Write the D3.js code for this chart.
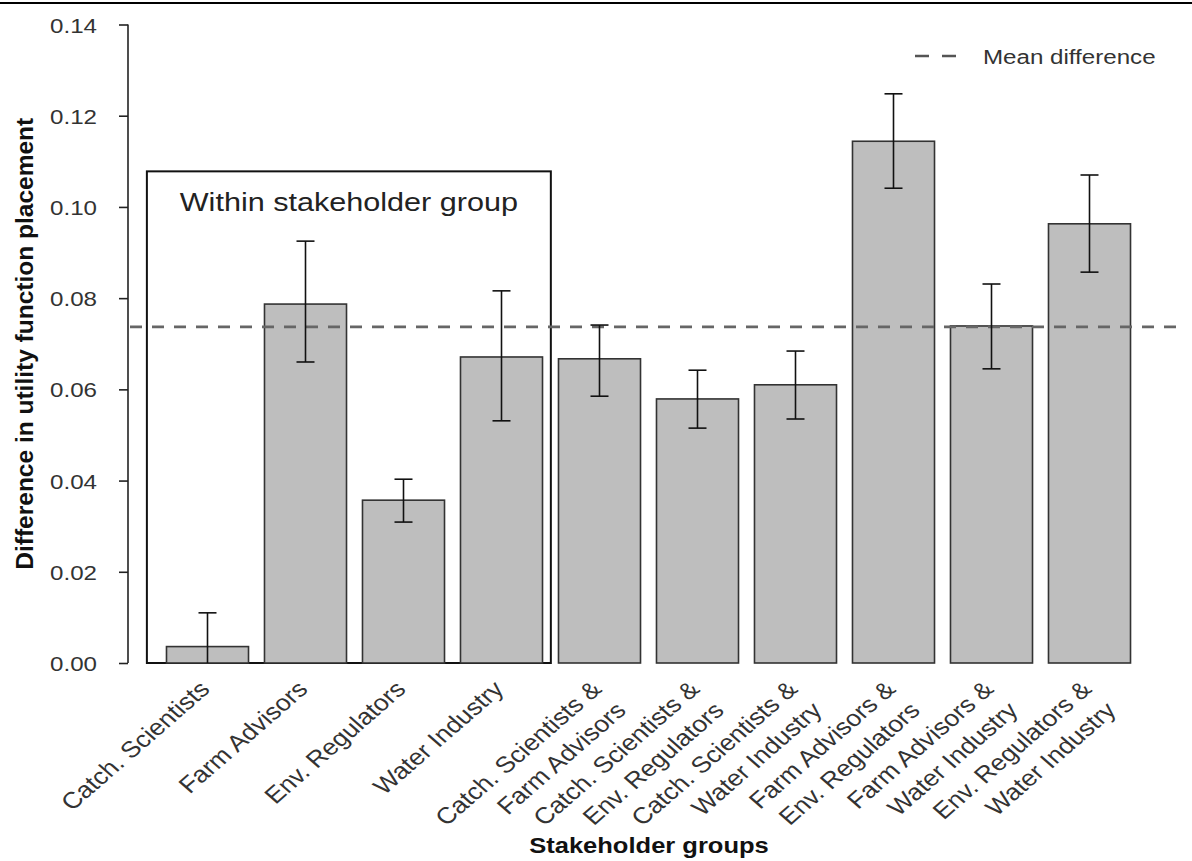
<!DOCTYPE html>
<html>
<head>
<meta charset="utf-8">
<script src="https://cdn.jsdelivr.net/npm/d3@7"></script>
<style>
  html, body { margin: 0; padding: 0; background: #fff; }
  svg { display: block; }
  text { font-family: "Liberation Sans", Arial, sans-serif; }
</style>
</head>
<body>
<svg id="chart" width="1192" height="861"></svg>
<script>
// Stakeholder groups (two-line labels split on "\n")
const categories = [
  "Catch. Scientists",
  "Farm Advisors",
  "Env. Regulators",
  "Water Industry",
  "Catch. Scientists &\nFarm Advisors",
  "Catch. Scientists &\nEnv. Regulators",
  "Catch. Scientists &\nWater Industry",
  "Farm Advisors &\nEnv. Regulators",
  "Farm Advisors &\nWater Industry",
  "Env. Regulators &\nWater Industry"
];
// Mean difference in utility function placement per group
const values   = [0.0036, 0.0787, 0.0357, 0.0671, 0.0667, 0.0579, 0.0610, 0.1144, 0.0739, 0.0963];
// Error bar bounds
const errLow   = [-0.0038, 0.0660, 0.0309, 0.0531, 0.0585, 0.0515, 0.0535, 0.1041, 0.0645, 0.0857];
const errHigh  = [0.0110, 0.0925, 0.0403, 0.0816, 0.0741, 0.0642, 0.0684, 0.1248, 0.0831, 0.1070];
const meanDifference = 0.0737;
const yTicks = [0, 0.02, 0.04, 0.06, 0.08, 0.10, 0.12, 0.14];
const withinGroups = categories.slice(0, 4);
const withinBoxTop = 0.1078;

const svg = d3.select("#chart");
const W = 1192, H = 861;
const SX = 1.15;           // horizontal glyph stretch
const labelColor = "#333";

svg.append("rect").attr("width", W).attr("height", H).attr("fill", "#fff");
// thin rule along the top edge
svg.append("line").attr("x1", 0).attr("x2", W).attr("y1", 3).attr("y2", 3)
  .attr("stroke", "#000").attr("stroke-width", 2);

const x = d3.scaleBand().domain(categories).range([158.5, 1138.5])
  .paddingInner(0.163).paddingOuter(0.0815);
const y = d3.scaleLinear().domain([0, 0.14]).range([663, 24.5]).clamp(true);

const data = categories.map((c, i) => ({ c, v: values[i], lo: errLow[i], hi: errHigh[i] }));

// Within-group frame
const step = x.step();
const boxL = x(withinGroups[0]) - step * 0.2;
const boxR = x(withinGroups[3]) + x.bandwidth() + step * 0.085;
svg.append("rect")
  .attr("x", boxL).attr("y", y(withinBoxTop))
  .attr("width", boxR - boxL).attr("height", y(0) - y(withinBoxTop))
  .attr("fill", "none").attr("stroke", "#111").attr("stroke-width", 2);
svg.append("text")
  .attr("transform", `translate(${(boxL + boxR) / 2},${y(withinBoxTop) + 40}) scale(${SX},1)`)
  .attr("text-anchor", "middle")
  .attr("font-size", 26.6).attr("fill", "#222")
  .text("Within stakeholder group");

// Bars
svg.append("g").selectAll("rect").data(data).join("rect")
  .attr("x", d => x(d.c)).attr("width", x.bandwidth())
  .attr("y", d => y(d.v)).attr("height", d => y(0) - y(d.v))
  .attr("fill", "#bebebe").attr("stroke", "#333").attr("stroke-width", 1.6);

// Mean difference line
svg.append("line")
  .attr("x1", 130).attr("x2", 1182)
  .attr("y1", y(meanDifference)).attr("y2", y(meanDifference))
  .attr("stroke", "#666").attr("stroke-width", 2.6)
  .attr("stroke-dasharray", "12,10");

// Error bars
const eb = svg.append("g").attr("stroke", "#111").attr("stroke-width", 1.6);
data.forEach(d => {
  const cx = x(d.c) + x.bandwidth() / 2;
  eb.append("line").attr("x1", cx).attr("x2", cx).attr("y1", y(d.lo)).attr("y2", y(d.hi));
  eb.append("line").attr("x1", cx - 9).attr("x2", cx + 9).attr("y1", y(d.hi)).attr("y2", y(d.hi));
  if (d.lo > 0) eb.append("line").attr("x1", cx - 9).attr("x2", cx + 9).attr("y1", y(d.lo)).attr("y2", y(d.lo));
});

// Y axis
const yAxis = svg.append("g").attr("transform", "translate(128,0)")
  .call(d3.axisLeft(y).tickValues(yTicks).tickFormat(d3.format(".2f")).tickSize(9).tickPadding(0));
yAxis.select(".domain").attr("stroke", "#222").attr("stroke-width", 1.6).attr("d", `M0,${y(0)}V${y(0.14)}`);
yAxis.selectAll(".tick line").attr("stroke", "#222").attr("stroke-width", 1.6);
yAxis.selectAll(".tick text")
  .attr("x", null).attr("dy", null)
  .attr("font-size", 21).attr("fill", labelColor)
  .attr("text-anchor", "end")
  .attr("transform", `translate(-31,7.5) scale(${SX},1)`);

// X tick labels, rotated 45 degrees; first line sits at the anchor, second line below
const lh = 1.3;
const xl = svg.append("g");
categories.forEach(c => {
  const lines = c.split("\n");
  const cx = x(c) + x.bandwidth() / 2;
  const t = xl.append("text")
    .attr("transform", `translate(${cx - 3},685) scale(${SX},1) rotate(-45)`)
    .attr("text-anchor", "end").attr("font-size", 23).attr("fill", labelColor);
  lines.forEach((ln, i) => {
    t.append("tspan").attr("x", 0)
      .attr("dy", i === 0 ? "0.35em" : `${lh}em`)
      .text(ln);
  });
});

// Axis titles
svg.append("text")
  .attr("transform", `translate(${649},853) scale(${SX},1)`)
  .attr("text-anchor", "middle").attr("font-size", 22.2).attr("font-weight", "bold").attr("fill", "#111")
  .text("Stakeholder groups");
svg.append("text")
  .attr("transform", `translate(33,${(y(0) + y(0.14)) / 2}) rotate(-90)`)
  .attr("text-anchor", "middle").attr("font-size", 24.5).attr("font-weight", "bold").attr("fill", "#111")
  .text("Difference in utility function placement");

// Legend
const lg = svg.append("g");
lg.append("line").attr("x1", 915).attr("x2", 957).attr("y1", 56).attr("y2", 56)
  .attr("stroke", "#555").attr("stroke-width", 2.6).attr("stroke-dasharray", "14,13");
lg.append("text").attr("transform", `translate(983,63.5) scale(${SX},1)`)
  .attr("font-size", 21).attr("fill", labelColor).text("Mean difference");
</script>
</body>
</html>
